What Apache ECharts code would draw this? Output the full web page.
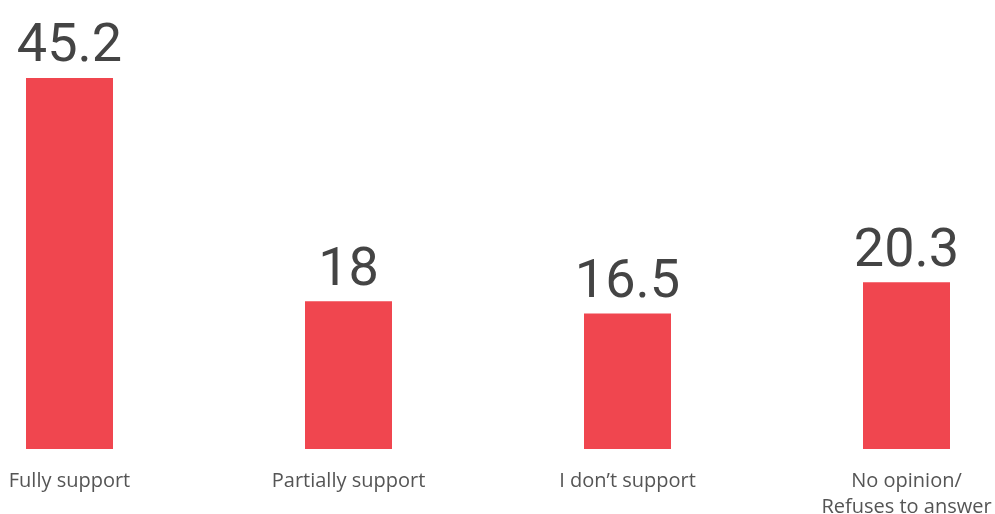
<!DOCTYPE html>
<html><head><meta charset="utf-8">
<script src="https://cdn.jsdelivr.net/npm/echarts@6/dist/echarts.min.js"></script>
<style>html,body{margin:0;padding:0;background:#fff;overflow:hidden;width:995px;height:514px}#c{position:absolute;left:-70px;top:0;width:1116px;height:514px}</style>
</head><body><div id="c"></div>
<script>
const categories = ["Fully support", "Partially support", "I don’t support", "No opinion/\nRefuses to answer"];
const values = [45.2, 18, 16.5, 20.3];

const chart = echarts.init(document.getElementById('c'), null, {renderer: 'canvas'});
chart.setOption({
  animation: false,
  grid: {left: 0, right: 0, top: 38.5, bottom: 65, containLabel: false, outerBoundsMode: 'none'},
  xAxis: {
    type: 'category', data: categories,
    axisLine: {show: false}, axisTick: {show: false},
    axisLabel: {interval: 0, margin: 19, fontSize: 20, lineHeight: 26, color: '#555', fontFamily: 'Open Sans'}
  },
  yAxis: {type: 'value', min: 0, max: 50, show: false, splitLine: {show: false}},
  series: [{
    type: 'bar', data: values, barWidth: 87,
    itemStyle: {color: '#f0464f'},
    label: {show: true, position: 'top', distance: 3, fontSize: 54, color: '#444', fontFamily: 'Roboto'}
  }]
});
</script></body></html>
